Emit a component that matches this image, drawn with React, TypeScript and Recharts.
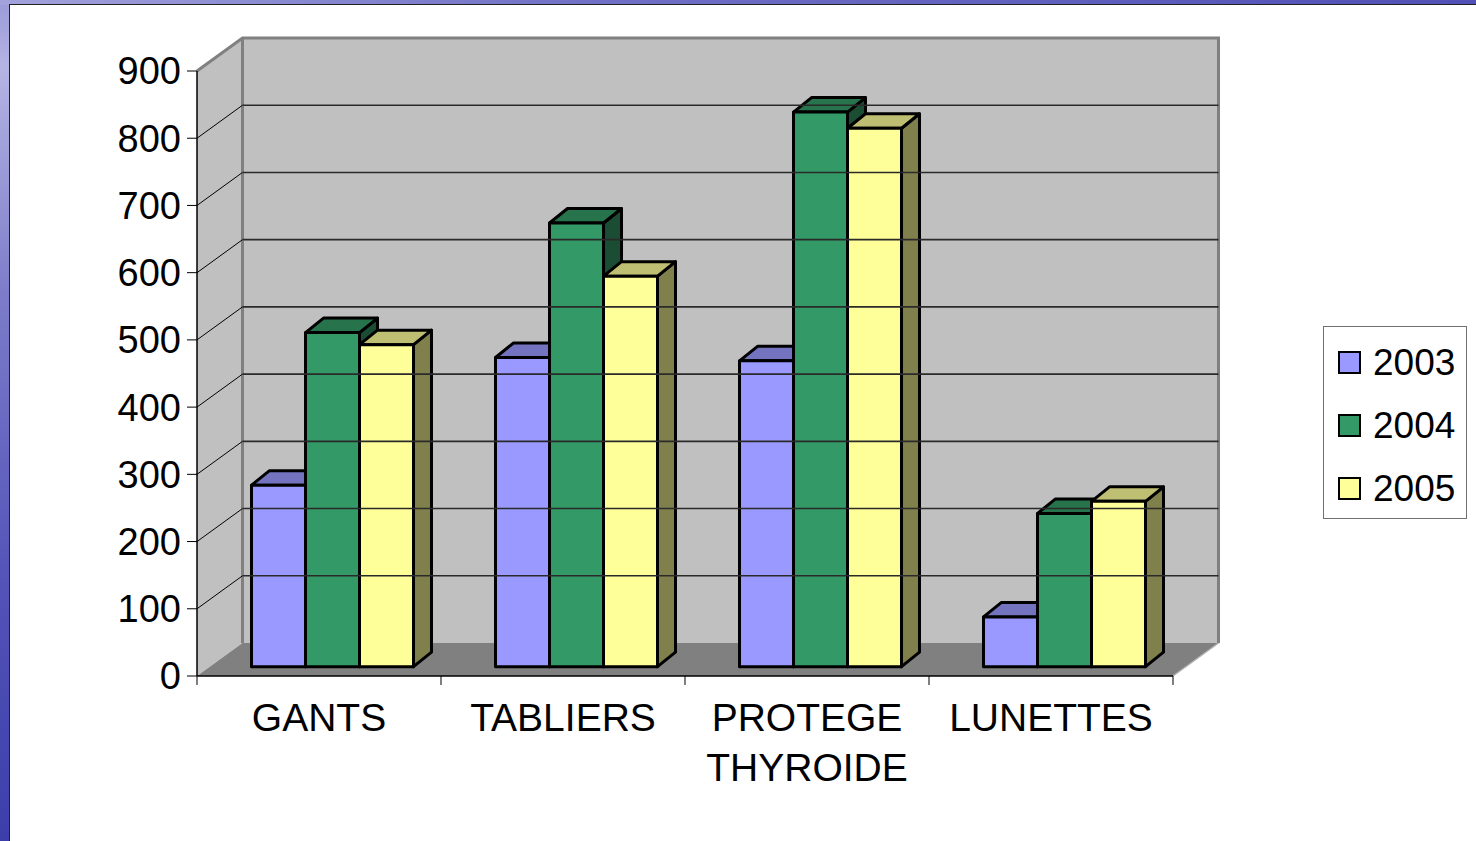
import {
  BarChart,
  Bar,
  XAxis,
  YAxis,
  ReferenceArea,
  ReferenceLine,
  Legend,
} from "recharts";

const categories = ["GANTS", "TABLIERS", "PROTEGE\nTHYROIDE", "LUNETTES"];
const values2003 = [270, 460, 455, 74];
const values2004 = [497, 660, 825, 228];
const values2005 = [479, 581, 801, 246];
const yTicks = [0, 100, 200, 300, 400, 500, 600, 700, 800, 900];
const gridLevels = [100, 200, 300, 400, 500, 600, 700, 800];

const data = categories.map((name, i) => ({
  name,
  y2003: values2003[i],
  y2004: values2004[i],
  y2005: values2005[i],
}));

// depth of the walls, offset of the bar fronts and depth of each bar
const WX = 45.5, WY = -33;
const BX = 14, BY = -9.3;
const DX = 18, DY = -14.5;

const FONT = "'Liberation Sans', Arial, sans-serif";

function makeBox(front: string, top: string, side: string) {
  return (props: any) => {
    const { x, y, width, height } = props;
    if (x == null || height == null) return <g />;
    const fx = x + BX, fy = y + BY, w = width, h = height;
    const st = { stroke: "#000", strokeWidth: 3, strokeLinejoin: "round" as const };
    return (
      <g>
        <polygon
          points={`${fx + w},${fy} ${fx + w + DX},${fy + DY} ${fx + w + DX},${fy + h + DY} ${fx + w},${fy + h}`}
          fill={side}
          {...st}
        />
        <polygon
          points={`${fx},${fy} ${fx + DX},${fy + DY} ${fx + w + DX},${fy + DY} ${fx + w},${fy}`}
          fill={top}
          {...st}
        />
        <rect x={fx} y={fy} width={w} height={h} fill={front} {...st} />
      </g>
    );
  };
}

const Walls = (props: any) => {
  const { x, y, width: w, height: h } = props;
  if (x == null) return <g />;
  return (
    <g>
      <polygon points={`${x},${y} ${x + WX},${y + WY} ${x + WX},${y + h + WY} ${x},${y + h}`} fill="#c0c0c0" />
      <rect x={x + WX} y={y + WY} width={w} height={h} fill="#c0c0c0" />
      <polygon
        points={`${x},${y + h} ${x + WX},${y + h + WY} ${x + w + WX},${y + h + WY} ${x + w},${y + h}`}
        fill="#808080"
      />
      <line x1={x + w} y1={y + h} x2={x + w + WX} y2={y + h + WY} stroke="#b0b0b0" strokeWidth={1.5} />
      <polyline
        points={`${x},${y} ${x + WX},${y + WY} ${x + w + WX},${y + WY} ${x + w + WX},${y + h + WY}`}
        fill="none"
        stroke="#808080"
        strokeWidth={3}
      />
      <line x1={x + WX} y1={y + WY} x2={x + WX} y2={y + h + WY} stroke="#808080" strokeWidth={3} />
    </g>
  );
};

const GridLine3D = (props: any) => {
  const { x1, y1, x2 } = props;
  if (x1 == null) return <g />;
  const l = Math.min(x1, x2), r = Math.max(x1, x2);
  return (
    <g>
      <line x1={l} y1={y1} x2={l + WX} y2={y1 + WY} stroke="#000" strokeWidth={1} />
      <line x1={l + WX} y1={y1 + WY} x2={r + WX} y2={y1 + WY} stroke="#2a2a2a" strokeWidth={1.6} />
    </g>
  );
};

const BoundaryTick = (props: any) => {
  const { x1, y1, y2 } = props;
  if (x1 == null) return <g />;
  const b = Math.max(y1, y2);
  return <line x1={x1} y1={b} x2={x1} y2={b + 9} stroke="#000" strokeWidth={1} />;
};

const CategoryTick = ({ x, y, payload }: any) => {
  const lines = String(payload.value).split("\n");
  return (
    <text x={x} y={y} textAnchor="middle" fontSize={39} fill="#000" fontFamily={FONT}>
      {lines.map((l, i) => (
        <tspan key={i} x={x} dy={i === 0 ? 55 : 50}>
          {l}
        </tspan>
      ))}
    </text>
  );
};

const LegendBox = ({ payload }: any) => (
  <div
    style={{
      width: 144,
      height: 193,
      boxSizing: "border-box",
      border: "1.5px solid #707070",
      background: "#fff",
      paddingTop: 4,
      fontFamily: FONT,
    }}
  >
    {(payload || []).map((p: any) => (
      <div key={p.value} style={{ display: "flex", alignItems: "center", height: 63, paddingLeft: 14 }}>
        <span
          style={{
            display: "inline-block",
            width: 19,
            height: 19,
            background: p.color,
            border: "2px solid #000",
            marginRight: 12,
          }}
        />
        <span style={{ fontSize: 37, color: "#000", lineHeight: 1 }}>{p.value}</span>
      </div>
    ))}
  </div>
);

export default function App() {
  return (
    <div
      style={{
        position: "absolute",
        left: 0,
        top: 0,
        width: 1476,
        height: 841,
        overflow: "hidden",
        background: "linear-gradient(180deg, #9a9ad8 0%, #b4b4e4 8%, #7c7cca 35%, #5252b8 70%, #3e3eab 100%)",
        fontFamily: FONT,
      }}
    >
      <div
        style={{
          position: "absolute",
          left: 0,
          top: 0,
          width: 1476,
          height: 5,
          background: "linear-gradient(90deg, #a2a2dc 0%, #7070c6 40%, #5050b6 100%)",
        }}
      />
      <div
        style={{
          position: "absolute",
          left: 9,
          top: 4,
          right: 0,
          bottom: 0,
          background: "#fff",
          borderLeft: "1.5px solid #222",
          borderTop: "1.5px solid #222",
        }}
      />
      <div style={{ position: "absolute", left: 0, top: 0 }}>
        <BarChart
          width={1476}
          height={841}
          data={data}
          margin={{ top: 71, right: 303, bottom: 85, left: 97 }}
          barCategoryGap="16.6%"
          barGap={0}
        >
          <ReferenceArea y1={0} y2={900} shape={<Walls />} ifOverflow="visible" />
          {gridLevels.map((v) => (
            <ReferenceLine key={v} y={v} shape={<GridLine3D />} />
          ))}
          <XAxis
            dataKey="name"
            interval={0}
            height={80}
            axisLine={{ stroke: "#000", strokeWidth: 1.5 }}
            tickLine={false}
            tickSize={0}
            tickMargin={0}
            tick={<CategoryTick />}
          />
          <YAxis
            domain={[0, 900]}
            ticks={yTicks}
            interval={0}
            width={100}
            tickSize={10}
            tickMargin={6}
            axisLine={{ stroke: "#000", strokeWidth: 1.5 }}
            tickLine={{ stroke: "#000" }}
            tick={{ fontSize: 38, fill: "#000", fontFamily: FONT }}
          />
          {categories.map((c) => (
            <ReferenceLine key={"s" + c} x={c} position="start" shape={<BoundaryTick />} />
          ))}
          <ReferenceLine x={categories[categories.length - 1]} position="end" shape={<BoundaryTick />} />
          <Bar dataKey="y2003" name="2003" fill="#9999ff" shape={makeBox("#9999ff", "#7373bf", "#4d4d80")} isAnimationActive={false} />
          <Bar dataKey="y2004" name="2004" fill="#339966" shape={makeBox("#339966", "#26734c", "#1a4d33")} isAnimationActive={false} />
          <Bar dataKey="y2005" name="2005" fill="#ffff99" shape={makeBox("#ffff99", "#bfbf73", "#80804c")} isAnimationActive={false} />
          <Legend
            layout="vertical"
            align="center"
            verticalAlign="middle"
            content={<LegendBox />}
            wrapperStyle={{ left: 1323, top: 326, width: 144, height: 193 }}
          />
        </BarChart>
      </div>
    </div>
  );
}
